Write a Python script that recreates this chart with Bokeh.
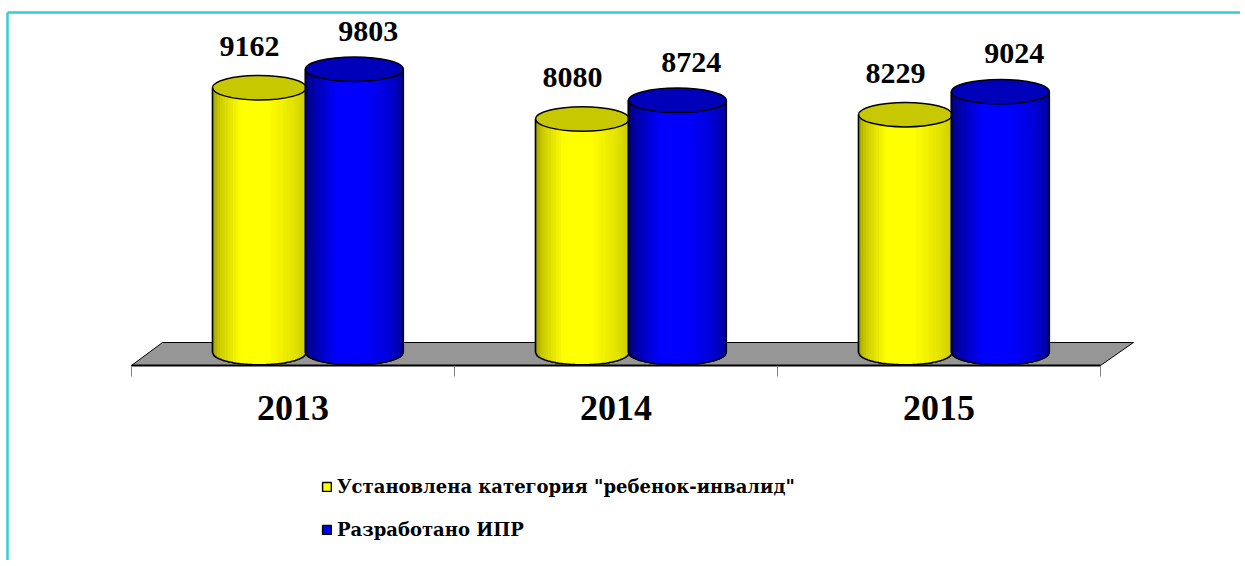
import numpy as np
from bokeh.plotting import figure
from bokeh.models import FixedTicker, Legend, LegendItem, Range1d
from bokeh.core.properties import value
from bokeh.embed import file_html
from bokeh.resources import INLINE

# ---- data ----
years = ["2013", "2014", "2015"]
established = [9162, 8080, 8229]
developed = [9803, 8724, 9024]
series_names = ['Установлена категория "ребенок-инвалид"', "Разработано ИПР"]

# ---- layout constants ----
W, H = 1240, 560
PX_PER_X = 323.0
Y_PER_PX = 34.6
x0 = 0.5 - 131 / PX_PER_X
x1 = x0 + W / PX_PER_X
y1 = 352 * Y_PER_PX
y0 = y1 - H * Y_PER_PX
EH = 24.5 * Y_PER_PX  # ellipse height in data units
SERIF = "Times New Roman"
LEG_FONT = "DejaVu Serif"

p = figure(width=W, height=H, x_range=Range1d(x0, x1), y_range=Range1d(y0, y1),
           output_backend="svg", toolbar_location=None, min_border=0,
           y_axis_location=None, x_axis_location="below",
           outline_line_color=None, background_fill_color="white",
           border_fill_color="white")
p.grid.visible = False

# teal frame (left + top)
fx = x0 + 7 / PX_PER_X
fy = y1 - 12 * Y_PER_PX
p.line([fx, fx], [y0, fy], line_color="#33CCCC", line_width=2.5)
p.line([fx, x1], [fy, fy], line_color="#33CCCC", line_width=2.5)

# floor
fl_back, fl_front = 346, -450
p.patch([0.5, 0.596, 3.602, 3.5], [fl_front, fl_back, fl_back, fl_front],
        fill_color="#969696", line_color="black", line_width=1)
p.line([0.5, 3.5], [fl_front, fl_front], line_color="black", line_width=2)


def series(vals, offset, w, rgb, tp, fp, top_color, lbl_dx, lbl_dy):
    cats = np.arange(1, len(vals) + 1)
    cx = cats + offset
    half = w / 2
    sil_xs, sil_ys = [], []
    for c, v in zip(cx, vals):
        arc_x = np.linspace(c - half, c + half, 60)
        arc_y = -EH / 2 * np.sqrt(np.clip(1 - ((arc_x - c) / half) ** 2, 0, 1))
        sil_xs.append([c - half] + list(arc_x) + [c + half])
        sil_ys.append([v] + list(arc_y) + [v])
    r = p.patches(sil_xs, sil_ys, fill_color="#%02x%02x%02x" % rgb,
                  line_color="black", line_width=1.5)
    N = 36
    sx, sy, cols = [], [], []
    for c, v in zip(cx, vals):
        for i in range(N):
            xa = c - half + w * i / N
            xb = c - half + w * (i + 1) / N
            t = (i + 0.5) / N
            f = np.interp(t, tp, fp)
            col = "#%02x%02x%02x" % tuple(int(min(255, ch * f)) for ch in rgb)
            xx = np.linspace(xa, xb, 4)
            yb = -EH / 2 * np.sqrt(np.clip(1 - ((xx - c) / half) ** 2, 0, 1))
            sx.append([xa, xb] + list(xx[::-1]))
            sy.append([v, v] + list(yb[::-1]))
            cols.append(col)
    p.patches(sx, sy, fill_color=cols, line_color=cols, line_width=0.6)
    p.multi_line(sil_xs, sil_ys, line_color="black", line_width=1.5)
    p.ellipse(x=cx, y=vals, width=w, height=EH, fill_color=top_color,
              line_color="black", line_width=1.5)
    p.text(x=cx, y=vals, text=[str(v) for v in vals], x_offset=lbl_dx, y_offset=lbl_dy,
           text_align="center", text_baseline="alphabetic",
           text_font=value(SERIF), text_font_style="bold",
           text_font_size="30px", text_color="black")
    return r


r_y = series(established, -0.104, 0.29, (255, 255, 0),
             [0, 0.08, 0.3, 0.6, 0.85, 1.0], [0.62, 0.8, 1.0, 1.0, 0.9, 0.8],
             "#c8c800", -10, -41)
r_b = series(developed, 0.190, 0.303, (0, 0, 255),
             [0, 0.08, 0.32, 0.6, 0.85, 1.0], [0.45, 0.65, 1.0, 1.0, 0.85, 0.62],
             "#0000bb", 14, -38)

# axis
ax = p.xaxis[0]
ax.fixed_location = -480
ax.bounds = (0.5, 3.5)
ax.ticker = FixedTicker(ticks=[1, 2, 3], minor_ticks=[0.5, 1.5, 2.5, 3.5])
ax.major_label_overrides = {i + 1: y for i, y in enumerate(years)}
ax.major_tick_out = 0
ax.major_tick_in = 0
ax.minor_tick_out = 10
ax.minor_tick_in = 0
ax.minor_tick_line_color = "#808080"
ax.axis_line_color = "#808080"
ax.major_label_standoff = 20
ax.major_label_text_font = SERIF
ax.major_label_text_font_style = "bold"
ax.major_label_text_font_size = "36px"
ax.major_label_text_color = "black"

legend = Legend(items=[LegendItem(label=series_names[0], renderers=[r_y]),
                       LegendItem(label=series_names[1], renderers=[r_b])],
                location=(321, 17), orientation="vertical",
                glyph_width=11, glyph_height=11, label_standoff=5,
                padding=0, margin=0, spacing=16, border_line_color=None,
                background_fill_alpha=0, label_text_font=LEG_FONT,
                label_text_font_style="bold", label_text_font_size="18px",
                label_height=27, label_text_color="black")
p.add_layout(legend)

open("out.html", "w").write(file_html(p, INLINE))
